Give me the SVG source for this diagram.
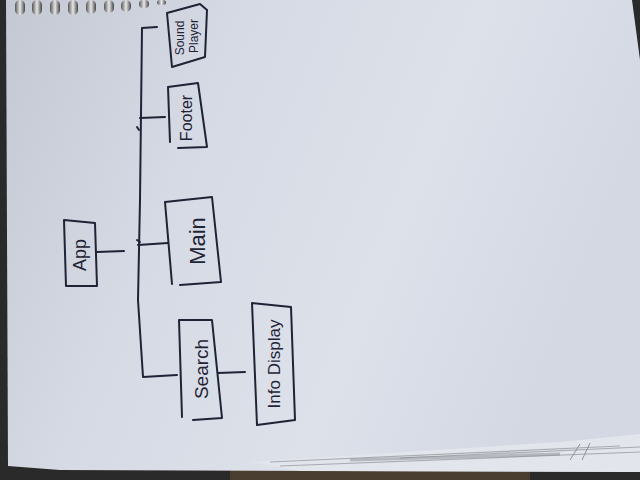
<svg xmlns="http://www.w3.org/2000/svg" width="640" height="480" viewBox="0 0 640 480">
<defs>
<linearGradient id="paper" x1="0" y1="0" x2="1" y2="0.3">
<stop offset="0" stop-color="#c4c8d3"/>
<stop offset="0.35" stop-color="#d6dae4"/>
<stop offset="0.7" stop-color="#dde1ea"/>
<stop offset="1" stop-color="#d3d8e3"/>
</linearGradient>
<linearGradient id="ring" x1="0" y1="0" x2="1" y2="0">
<stop offset="0" stop-color="#555"/>
<stop offset="0.5" stop-color="#e8e8e8"/>
<stop offset="1" stop-color="#444"/>
</linearGradient>
<style>
.ink{fill:none;stroke:#1f2336;stroke-width:2;stroke-linecap:round;stroke-linejoin:round}
.lbl{font-family:"Liberation Sans","DejaVu Sans",sans-serif;fill:#1f2336;text-anchor:middle;dominant-baseline:central}
</style>
</defs>
<!-- background -->
<rect x="0" y="0" width="640" height="480" fill="#2b2a2a"/>
<rect x="230" y="468" width="300" height="12" fill="#4a3e30"/>
<!-- paper -->
<path d="M6 0 L632 0 L640 60 L640 472 L60 470 L8 466 Z" fill="url(#paper)"/>
<!-- page stack -->
<path d="M250 462 L560 442 L640 434 L640 472 L300 471 Z" fill="#e2e5ec"/>
<path d="M270 462 L620 446 M280 466 L640 452 M400 458 L640 447" stroke="#a9acb3" stroke-width="1.2" fill="none"/>
<path d="M350 460 L560 454" stroke="#8a8c92" stroke-width="3" fill="none" opacity="0.5"/>
<path d="M580 444 L570 460 M590 443 L582 460" stroke="#8d9097" stroke-width="1" fill="none"/>
<!-- spiral rings -->
<g fill="url(#ring)">
<rect x="15" y="0" width="10" height="15" rx="5"/>
<rect x="32" y="0" width="10" height="15" rx="5"/>
<rect x="50" y="0" width="10" height="15" rx="5"/>
<rect x="68" y="0" width="10" height="15" rx="5"/>
<rect x="86" y="0" width="10" height="14" rx="5"/>
<rect x="104" y="0" width="10" height="13" rx="5"/>
<rect x="121" y="0" width="10" height="12" rx="5"/>
<rect x="139" y="0" width="10" height="8" rx="4"/>
<rect x="157" y="0" width="9" height="5" rx="3"/>
</g>
<!-- connectors -->
<g id="connectors" class="ink">
<path d="M97 252 L124 251"/>
<path d="M157 27 L142 28 L140 200 L138 300 L143 377 L177 375"/>
<path d="M140 118 L165 117"/>
<path d="M138 245 L168 243"/>
<path d="M137 240 L140 242"/>
<path d="M137 127 L139 130"/>
<path d="M218 373 L245 372"/>
</g>
<!-- nodes -->
<g id="app">
<path class="ink" d="M64 220 L95 223 L97 286 L66 286 Z"/>
<text class="lbl" font-size="18" transform="translate(80 255) rotate(-90)">App</text>
</g>
<g id="main">
<path class="ink" d="M165 202 L212 197 L221 282 L180 285 M172 284 L165 202"/>
<text class="lbl" font-size="22" transform="translate(197 241) rotate(-90)">Main</text>
</g>
<g id="footer">
<path class="ink" d="M168 87 L198 83 L207 147 L178 148 M170 142 L168 87"/>
<text class="lbl" font-size="16" transform="translate(186 118) rotate(-90)">Footer</text>
</g>
<g id="sound-player">
<path class="ink" d="M167 13 L200 4 L207 10 L205 57 L172 67 L167 13"/>
<text class="lbl" font-size="12" transform="translate(180 38) rotate(-90)">Sound</text>
<text class="lbl" font-size="12" transform="translate(194 36) rotate(-90)">Player</text>
</g>
<g id="search">
<path class="ink" d="M179 320 L212 320 L222 418 L193 420 M182 417 L179 320"/>
<text class="lbl" font-size="19" transform="translate(201 369) rotate(-90)">Search</text>
</g>
<g id="info-display">
<path class="ink" d="M252 303 L291 307 L295 420 L257 425 L252 303"/>
<text class="lbl" font-size="17" transform="translate(274 364) rotate(-90)">Info Display</text>
</g>
</svg>
